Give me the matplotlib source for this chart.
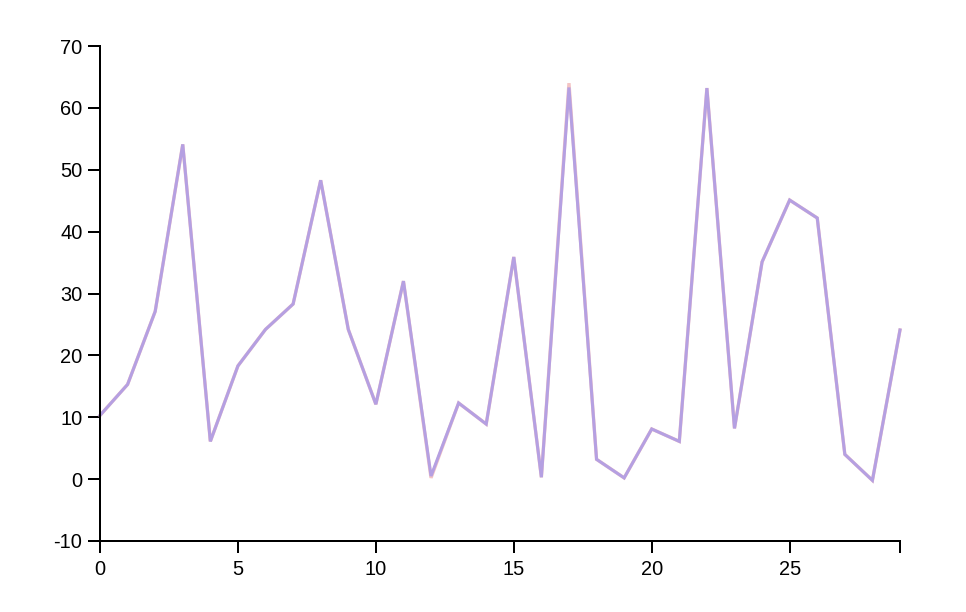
import matplotlib
matplotlib.use("Agg")
import matplotlib.pyplot as plt

x = list(range(30))
# main series (drawn as purple)
blue_vals = [10.3, 15.3, 27.1, 54.1, 6.1, 18.3, 24.2, 28.3, 48.3, 24.2,
             12.1, 32.0, 0.5, 12.3, 8.9, 35.9, 0.3, 63.3, 3.2, 0.2,
             8.1, 6.1, 63.2, 8.2, 35.1, 45.1, 42.2, 4.0, -0.2, 24.1]
# faint series underneath, almost identical
red_vals = [10.3, 15.3, 27.1, 54.1, 6.1, 18.3, 24.2, 28.3, 48.3, 24.2,
            12.1, 32.0, 0.2, 12.3, 8.9, 35.9, 0.3, 64.0, 3.2, 0.2,
            8.1, 6.1, 63.2, 8.2, 35.1, 45.1, 42.2, 4.0, -0.2, 24.1]

plt.rcParams['font.family'] = ['Liberation Sans', 'DejaVu Sans']
plt.rcParams['axes.unicode_minus'] = False

fig = plt.figure(figsize=(9.66, 6.12), dpi=100)
ax = fig.add_axes([100/966, 71/612, 800/966, 495/612])

ax.plot(x, red_vals, color='#f4c4c4', linewidth=2.4, solid_joinstyle='miter', clip_on=False)
ax.plot(x, blue_vals, color='#b5a0e2', linewidth=2.2, solid_joinstyle='miter', clip_on=False)

ax.set_xlim(0, 29)
ax.set_ylim(-10, 70)
ax.set_xticks([0, 5, 10, 15, 20, 25])
ax.set_xticks([29], minor=True)
ax.set_yticks(range(-10, 71, 10))

for s in ['top', 'right']:
    ax.spines[s].set_visible(False)
for s in ['left', 'bottom']:
    ax.spines[s].set_linewidth(1.44)
ax.tick_params(which='both', direction='out', length=8.6, width=1.44, labelsize=14.4, pad=4)
ax.tick_params(axis='x', pad=5)

fig.savefig("out.png", dpi=100)
